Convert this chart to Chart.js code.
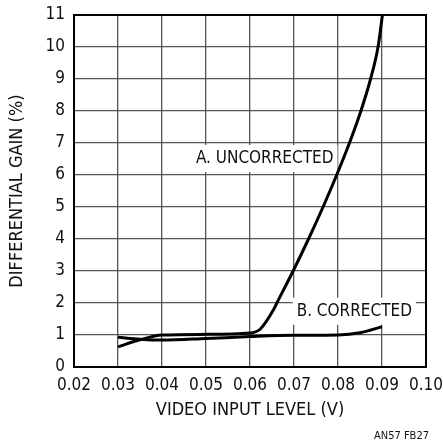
<!DOCTYPE html>
<html>
<head>
<meta charset="utf-8">
<script src="https://cdn.jsdelivr.net/npm/chart.js@4/dist/chart.umd.min.js"></script>
<style>
  html, body { margin: 0; padding: 0; background: #fff; }
  #wrap { width: 443px; height: 442px; position: relative; }
</style>
</head>
<body>
<div id="wrap"><canvas id="c" width="443" height="442"></canvas></div>
<script>
const FONT = "'Liberation Sans Narrow', 'DejaVu Sans Condensed', 'Arial Narrow', sans-serif";

// Axis ticks
const xTickValues = [0.02, 0.03, 0.04, 0.05, 0.06, 0.07, 0.08, 0.09, 0.10];
const yTickValues = [0, 1, 2, 3, 4, 5, 6, 7, 8, 9, 10, 11];

// Curve A: uncorrected differential gain (%) vs video input level (V)
const uncorrectedLevel = [0.030, 0.035, 0.040, 0.050, 0.060, 0.0623, 0.0653, 0.0661, 0.0698, 0.0733, 0.0766, 0.0797, 0.0826, 0.0852, 0.0874, 0.0891, 0.0901];
const uncorrectedGain  = [0.63,  0.85,  1.00,  1.02,  1.06,  1.18,   1.78,   2.00,   3.00,   4.00,   5.00,   6.00,   7.00,   8.00,   9.00,   10.00,  11.00];

// Curve B: corrected differential gain (%)
const correctedLevel = [0.030, 0.035, 0.040, 0.050, 0.060, 0.070, 0.080, 0.085, 0.090];
const correctedGain  = [0.93,  0.87,  0.84,  0.89,  0.95,  0.99,  1.00,  1.07,  1.26];

const curveNames = ['A. UNCORRECTED', 'B. CORRECTED'];
const curveLabelAt = [{ x: 0.0477, y: 6.53 }, { x: 0.0706, y: 1.76 }];
const figureNote = 'AN57 FB27';

const toPoints = (xs, ys) => xs.map((x, i) => ({ x, y: ys[i] }));

const curveLabels = {
  id: 'curveLabels',
  beforeDatasetsDraw(chart) {
    const { ctx, scales } = chart;
    ctx.save();
    ctx.font = '17px ' + FONT;
    ctx.textBaseline = 'middle';
    ctx.textAlign = 'left';
    curveNames.forEach((name, i) => {
      const px = scales.x.getPixelForValue(curveLabelAt[i].x);
      const py = scales.y.getPixelForValue(curveLabelAt[i].y);
      const w = ctx.measureText(name).width;
      ctx.fillStyle = '#fff';
      ctx.fillRect(px - 4, py - 13, w + 8, 27);
      ctx.fillStyle = '#111';
      ctx.fillText(name, px, py + 1);
    });
    ctx.restore();
  },
  afterDraw(chart) {
    const { ctx, chartArea: a } = chart;
    ctx.save();
    ctx.strokeStyle = '#000';
    ctx.lineWidth = 2;
    ctx.strokeRect(a.left, a.top, a.right - a.left, a.bottom - a.top);
    ctx.font = '11px ' + FONT;
    ctx.fillStyle = '#111';
    ctx.textAlign = 'right';
    ctx.textBaseline = 'middle';
    ctx.fillText(figureNote, chart.width - 14, chart.height - 6);
    ctx.restore();
  }
};

new Chart(document.getElementById('c'), {
  type: 'line',
  data: {
    datasets: [
      { label: curveNames[0], data: toPoints(uncorrectedLevel, uncorrectedGain) },
      { label: curveNames[1], data: toPoints(correctedLevel, correctedGain) }
    ]
  },
  options: {
    responsive: false,
    animation: false,
    devicePixelRatio: 1,
    layout: { padding: { top: 15, right: 17, bottom: 0, left: 0 } },
    elements: {
      line: { borderColor: '#000', borderWidth: 3, cubicInterpolationMode: 'monotone', fill: false },
      point: { radius: 0, hoverRadius: 0 }
    },
    plugins: { legend: { display: false }, tooltip: { enabled: false } },
    scales: {
      x: {
        type: 'linear',
        min: 0.02,
        max: 0.10,
        afterBuildTicks: s => { s.ticks = xTickValues.map(v => ({ value: v })); },
        afterFit: s => { s.height = 75; s.paddingLeft = 0; s.paddingRight = 0; },
        ticks: {
          autoSkip: false, maxRotation: 0, padding: 8, color: '#111',
          font: { family: FONT, size: 17 },
          callback: v => Number(v).toFixed(2)
        },
        grid: { color: '#555', lineWidth: 1.3, drawTicks: false },
        border: { display: false },
        title: {
          display: true, text: 'VIDEO INPUT LEVEL (V)', color: '#111',
          font: { family: FONT, size: 18 }, padding: { top: 0, bottom: 21 }
        }
      },
      y: {
        type: 'linear',
        min: 0,
        max: 11,
        afterBuildTicks: s => { s.ticks = yTickValues.map(v => ({ value: v })); },
        afterFit: s => { s.width = 74; s.paddingTop = 0; s.paddingBottom = 0; },
        ticks: {
          padding: 9, color: '#111',
          font: { family: FONT, size: 17 },
          callback: v => String(v)
        },
        grid: { color: '#555', lineWidth: 1.3, drawTicks: false },
        border: { display: false },
        title: {
          display: true, text: 'DIFFERENTIAL GAIN (%)', color: '#111',
          font: { family: FONT, size: 18 }, padding: { top: 7, bottom: 0 }
        }
      }
    }
  },
  plugins: [curveLabels]
});
</script>
</body>
</html>
